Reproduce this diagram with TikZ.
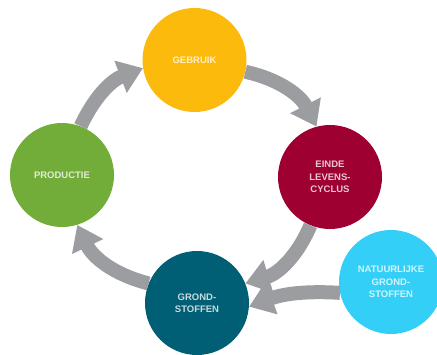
\documentclass[tikz,border=0pt]{standalone}
\usepackage{fontspec}
\setmainfont{Liberation Sans}
\usetikzlibrary{arrows.meta}
\definecolor{cyel}{RGB}{252,186,12}
\definecolor{cgrn}{RGB}{114,172,57}
\definecolor{cred}{RGB}{158,0,50}
\definecolor{cteal}{RGB}{0,94,117}
\definecolor{ccyan}{RGB}{52,207,246}
\definecolor{cgray}{RGB}{155,157,160}
\begin{document}
\begin{tikzpicture}[x=1pt,y=1pt,
  blob/.style={circle,inner sep=0pt,minimum size=104pt,draw=none,
    text=white,text opacity=0.78,align=center,
    font=\fontsize{9.5}{12.5}\selectfont\bfseries},
  arr/.style={draw=cgray,line width=14pt,
    -{Triangle[length=24pt,width=33pt]}}]
\useasboundingbox (0,0) rectangle (437,354);
\node[blob,fill=cyel]  (gebruik)   at (194.5,294) {GEBRUIK};
\node[blob,fill=cgrn]  (productie) at (62,179)    {PRODUCTIE};
\node[blob,fill=cred]  (einde)     at (330,177)   {EINDE\\LEVENS-\\CYCLUS};
\node[blob,fill=cteal] (grond)     at (197,51)    {GROND-\\STOFFEN};
\node[blob,fill=ccyan] (nat)       at (391,72)    {NATUURLIJKE\\GROND-\\STOFFEN};
\draw[arr] (gebruik.-13)   to[bend left=25] (einde.105);
\draw[arr] (einde.-112)    to[bend left=25] (grond.22);
\draw[arr] (grond.158)     to[bend left=25] (productie.-73);
\draw[arr] (productie.69)  to[bend left=22] (gebruik.-171);
\draw[arr] (nat.-168)      to[bend right=12] (grond.-4);
\end{tikzpicture}
\end{document}
